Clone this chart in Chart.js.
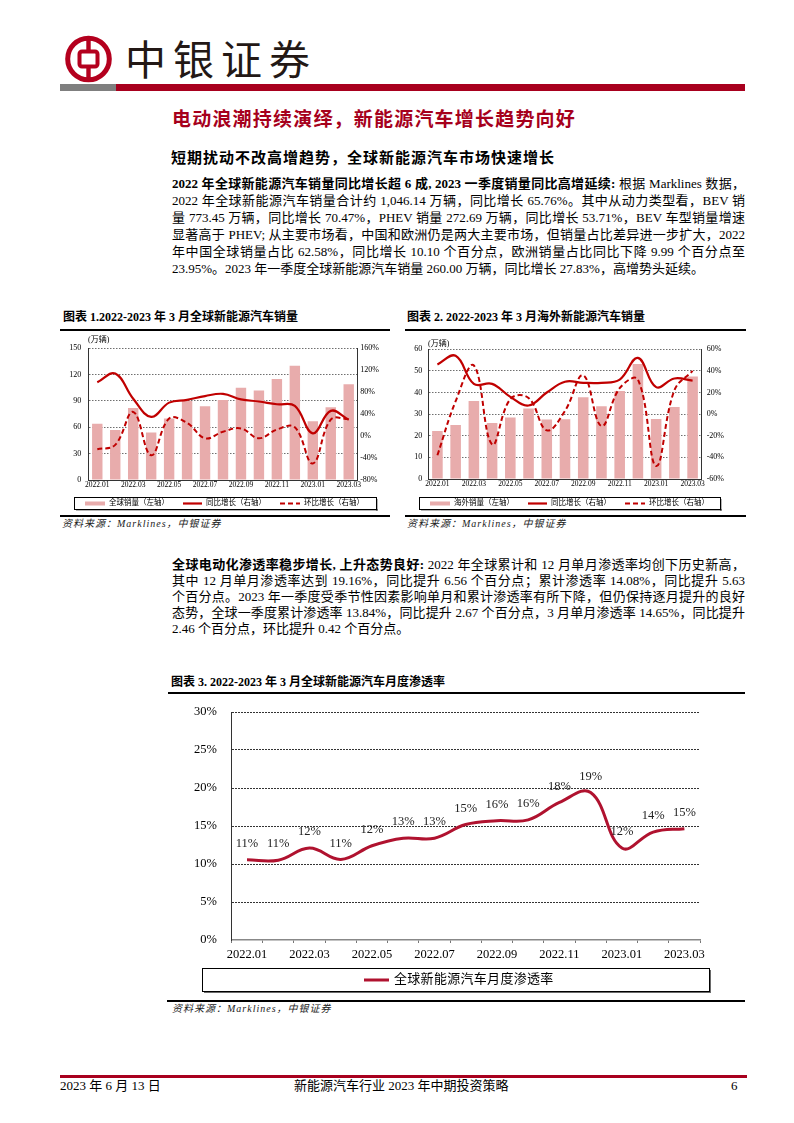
<!DOCTYPE html>
<html><head><meta charset="utf-8">
<script src="https://cdn.jsdelivr.net/npm/chart.js@4.4.0/dist/chart.umd.min.js"></script>
<style>
html,body{margin:0;padding:0;background:#fff;}
body{width:794px;height:1123px;position:relative;overflow:hidden;font-family:"Liberation Serif","Noto Sans CJK SC",serif;color:#000;}
.abs{position:absolute;}
.p{position:absolute;left:172px;width:573px;font-size:13px;}
.p div{height:17px;line-height:17px;}
.p2 div{height:16px;line-height:16px;}
.j{text-align:justify;text-align-last:justify;}
.p b{font-weight:700;}
.ct{position:absolute;font-size:12px;font-weight:700;line-height:14px;white-space:nowrap;}
.rule{position:absolute;height:1.5px;background:#000;}
.src{position:absolute;font-size:10px;font-style:italic;letter-spacing:1px;line-height:12px;white-space:nowrap;color:#222;}
canvas{position:absolute;}
.ft{position:absolute;top:1078px;font-size:13px;line-height:16px;white-space:nowrap;}
</style></head><body>

<svg class="abs" style="left:60px;top:33px" width="60" height="52" viewBox="60 33 60 52">
<circle cx="88.5" cy="59" r="20.8" fill="none" stroke="#b4001e" stroke-width="5"/>
<rect x="86.3" y="38" width="4.4" height="42" fill="#b4001e"/>
<rect x="79.5" y="51.5" width="18" height="15" rx="2.5" fill="#fff" stroke="#b4001e" stroke-width="4"/>
</svg>
<div class="abs" style="left:125px;top:32px;font-family:'Noto Sans CJK SC';font-size:41px;line-height:50px;letter-spacing:7px;color:#231815;">中银证券</div>
<div class="abs" style="left:60px;top:84px;width:56px;height:7px;background:#7f7f7f;"></div>
<div class="abs" style="left:116px;top:84px;width:629px;height:7px;background:#a8001e;"></div>

<div class="abs" style="left:172px;top:107px;font-family:'Noto Sans CJK SC';font-weight:700;font-size:19px;line-height:22px;letter-spacing:1.2px;color:#a6001c;white-space:nowrap;">电动浪潮持续演绎，新能源汽车增长趋势向好</div>
<div class="abs" style="left:171px;top:148px;font-family:'Noto Sans CJK SC';font-weight:700;font-size:15px;line-height:18px;letter-spacing:1px;white-space:nowrap;">短期扰动不改高增趋势，全球新能源汽车市场快速增长</div>

<div class="p" style="top:175px;">
<div class="j"><b>2022 年全球新能源汽车销量同比增长超 6 成, 2023 一季度销量同比高增延续:</b> 根据 Marklines 数据，</div>
<div class="j">2022 年全球新能源汽车销量合计约 1,046.14 万辆，同比增长 65.76%。其中从动力类型看，BEV 销</div>
<div class="j">量 773.45 万辆，同比增长 70.47%，PHEV 销量 272.69 万辆，同比增长 53.71%，BEV 车型销量增速</div>
<div class="j">显著高于 PHEV; 从主要市场看，中国和欧洲仍是两大主要市场，但销量占比差异进一步扩大，2022</div>
<div class="j">年中国全球销量占比 62.58%，同比增长 10.10 个百分点，欧洲销量占比同比下降 9.99 个百分点至</div>
<div>23.95%。2023 年一季度全球新能源汽车销量 260.00 万辆，同比增长 27.83%，高增势头延续。</div>
</div>

<div class="ct" style="left:63px;top:310px;">图表 1.2022-2023 年 3 月全球新能源汽车销量</div>
<div class="rule" style="left:60px;top:329px;width:330px;"></div>
<div class="ct" style="left:407px;top:310px;">图表 2. 2022-2023 年 3 月海外新能源汽车销量</div>
<div class="rule" style="left:405px;top:329px;width:341px;"></div>

<canvas id="c1" width="335" height="182" style="left:60px;top:332px;"></canvas>
<canvas id="c2" width="340" height="182" style="left:405px;top:332px;"></canvas>

<div class="rule" style="left:60px;top:515px;width:330px;"></div>
<div class="rule" style="left:405px;top:515px;width:341px;"></div>
<div class="src" style="left:62px;top:518px;">资料来源：Marklines，中银证券</div>
<div class="src" style="left:407px;top:518px;">资料来源：Marklines，中银证券</div>

<div class="p p2" style="top:557px;">
<div class="j"><b>全球电动化渗透率稳步增长, 上升态势良好:</b> 2022 年全球累计和 12 月单月渗透率均创下历史新高，</div>
<div class="j">其中 12 月单月渗透率达到 19.16%，同比提升 6.56 个百分点；累计渗透率 14.08%，同比提升 5.63</div>
<div class="j">个百分点。2023 年一季度受季节性因素影响单月和累计渗透率有所下降，但仍保持逐月提升的良好</div>
<div class="j">态势，全球一季度累计渗透率 13.84%，同比提升 2.67 个百分点，3 月单月渗透率 14.65%，同比提升</div>
<div>2.46 个百分点，环比提升 0.42 个百分点。</div>
</div>

<div class="ct" style="left:171px;top:675px;">图表 3. 2022-2023 年 3 月全球新能源汽车月度渗透率</div>
<div class="rule" style="left:168px;top:692px;width:577px;"></div>
<canvas id="c3" width="585" height="298" style="left:160px;top:700px;"></canvas>
<div class="rule" style="left:167px;top:1000px;width:578px;"></div>
<div class="src" style="left:172px;top:1003px;">资料来源：Marklines，中银证券</div>

<div class="abs" style="left:60px;top:1075px;width:687px;height:2.5px;background:#a8001e;"></div>
<div class="ft" style="left:60px;">2023 年 6 月 13 日</div>
<div class="ft" style="left:294px;">新能源汽车行业 2023 年中期投资策略</div>
<div class="ft" style="left:731px;">6</div>

<script>
// ---------- data ----------
const months = ['2022.01','2022.02','2022.03','2022.04','2022.05','2022.06','2022.07','2022.08','2022.09','2022.10','2022.11','2022.12','2023.01','2023.02','2023.03'];

const globalSales = [64, 57, 82, 54, 70, 90, 84, 91, 105, 102, 115, 130, 67, 83, 109];
const globalYoY   = [98, 114, 68, 35, 61, 66, 73, 77, 67, 63, 58, 55, 5, 46, 30];
const globalMoM   = [-24, -16, 44, -35, 32, 24, -4, 8, 14, -4, 12, 16, -50, 30, 31];

const overseasSales = [22.2, 25.0, 36.1, 25.9, 28.4, 32.6, 27.5, 27.6, 37.8, 33.6, 40.7, 53.2, 27.8, 33.3, 47.4];
const overseasYoY   = [46, 54, 28, 28, 16, 8, 20, 30, 29, 29, 32, 52, 25, 33, 31];
const overseasMoM   = [-38, 12, 45, -28, 14, 15, -15, 3, 36, -11, 24, 32, -48, 22, 40];

const penetration = [10.55, 10.5, 12.1, 10.6, 12.4, 13.4, 13.4, 15.2, 15.7, 15.8, 18.1, 19.4, 12.1, 14.2, 14.65];

const leftTicks1 = [0, 30, 60, 90, 120, 150];
const rightTicks1 = [-80, -40, 0, 40, 80, 120, 160];
const leftTicks2 = [0, 10, 20, 30, 40, 50, 60];
const rightTicks2 = [-60, -40, -20, 0, 20, 40, 60];
const penTicks = [0, 5, 10, 15, 20, 25, 30];

const legend1 = ['全球销量（左轴）', '同比增长（右轴）', '环比增长（右轴）'];
const legend2 = ['海外销量（左轴）', '同比增长（右轴）', '环比增长（右轴）'];
const legend3 = ['全球新能源汽车月度渗透率'];

// ---------- styles ----------
const SERIF = "'Liberation Serif','Noto Sans CJK SC',serif";
const BAR = '#e8acac';
const RED = '#c00000';
const PEN = '#b0122f';
Chart.defaults.font.family = SERIF;
Chart.defaults.color = '#000';

const boxLegend = {
  id: 'boxLegend',
  afterDraw(chart, args, o) {
    if (!o || !o.box) return;
    const ctx = chart.ctx; ctx.save();
    const {x, y, w, h} = o.box;
    ctx.fillStyle = '#6a6a6a';
    ctx.fillRect(x + 2, y + h, w, o.sh);
    ctx.fillRect(x + w, y + 2, o.sh, h);
    ctx.strokeStyle = '#000'; ctx.lineWidth = 1;
    ctx.strokeRect(x + 0.5, y + 0.5, w, h);
    const cy = y + h / 2 + 0.5;
    chart.data.datasets.forEach((ds, i) => {
      const it = o.items[i];
      const type = chart.getDatasetMeta(i).type;
      if (type === 'bar') {
        ctx.fillStyle = ds.backgroundColor;
        ctx.fillRect(it.x, cy - 2, it.w, 4);
      } else {
        ctx.strokeStyle = ds.borderColor; ctx.lineWidth = ds.borderWidth;
        ctx.setLineDash(ds.borderDash || []);
        ctx.beginPath(); ctx.moveTo(it.x, cy); ctx.lineTo(it.x + it.w, cy); ctx.stroke();
        ctx.setLineDash([]);
      }
      ctx.fillStyle = '#000';
      ctx.font = o.font;
      ctx.textBaseline = 'middle'; ctx.textAlign = 'left';
      if (o.spacing) ctx.letterSpacing = o.spacing;
      ctx.fillText(ds.label, it.tx, cy);
    });
    ctx.restore();
  }
};

const unitLabel = {
  id: 'unitLabel',
  afterDraw(chart, args, o) {
    if (!o || !o.text) return;
    const ctx = chart.ctx; ctx.save();
    ctx.font = '8px ' + SERIF; ctx.fillStyle = '#000';
    ctx.textBaseline = 'middle'; ctx.textAlign = 'left';
    ctx.fillText(o.text, o.x, o.y);
    ctx.restore();
  }
};

const valueLabels = {
  id: 'valueLabels',
  afterDatasetsDraw(chart, args, o) {
    if (!o || !o.on) return;
    const ctx = chart.ctx; ctx.save();
    ctx.font = '12.5px ' + SERIF; ctx.fillStyle = '#222';
    ctx.textAlign = 'center'; ctx.textBaseline = 'middle';
    const meta = chart.getDatasetMeta(0);
    const data = chart.data.datasets[0].data;
    meta.data.forEach((pt, i) => {
      ctx.fillText(Math.round(data[i]) + '%', pt.x, pt.y - 16);
    });
    ctx.restore();
  }
};

function fixedTicks(list) {
  return function(scale) { scale.ticks = list.map(v => ({value: v})); };
}

function salesChart(id, sales, yoy, mom, labels, lt, rt, geo) {
  return new Chart(document.getElementById(id), {
    type: 'bar',
    data: {
      labels: months,
      datasets: [
        {type: 'bar', label: labels[0], data: sales, backgroundColor: BAR, yAxisID: 'y', order: 2, barPercentage: 0.58, categoryPercentage: 1},
        {type: 'line', label: labels[1], data: yoy, borderColor: RED, borderWidth: 2.2, pointRadius: 0, tension: 0.4, yAxisID: 'y1', order: 0},
        {type: 'line', label: labels[2], data: mom, borderColor: RED, borderWidth: 2, borderDash: [5, 3], pointRadius: 0, tension: 0.4, yAxisID: 'y1', order: 1}
      ]
    },
    options: {
      responsive: false, animation: false, events: [], devicePixelRatio: 1,
      layout: {autoPadding: false, padding: {top: geo.top, bottom: geo.bottom, left: 0, right: 0}},
      plugins: {
        legend: {display: false}, tooltip: {enabled: false},
        boxLegend: {box: {x: 14, y: 165, w: geo.lw, h: 12}, sh: 1.5, font: '7.5px ' + SERIF,
          items: [{x: 25, w: 20, tx: 49}, {x: 123, w: 19, tx: 146}, {x: 220, w: 20, tx: 244}]},
        unitLabel: {text: '(万辆)', x: geo.ux, y: geo.uy}
      },
      scales: {
        x: {
          offset: true,
          grid: {display: true, drawOnChartArea: false, drawTicks: false, offset: true},
          border: {display: true, color: '#333', width: 1},
          ticks: {autoSkip: false, maxRotation: 0, padding: 1, font: {size: 7.5}, color: '#000',
            callback: (v, i) => i % 2 === 0 ? months[i] : ''},
          afterFit: s => { s.height = 10; }
        },
        y: {
          position: 'left', min: lt[0], max: lt[lt.length - 1],
          afterBuildTicks: fixedTicks(lt),
          ticks: {padding: geo.lp, font: {size: 8}, color: '#000'},
          grid: {color: c => c.index === 0 ? 'rgba(0,0,0,0)' : '#6f6f6f', lineWidth: 1, drawTicks: false},
          border: {display: true, color: '#333', width: 1, dash: [1.5, 1.5]},
          afterFit: s => { s.width = geo.yw; }
        },
        y1: {
          position: 'right', min: rt[0], max: rt[rt.length - 1],
          afterBuildTicks: fixedTicks(rt),
          ticks: {padding: geo.rp, font: {size: 8}, color: '#000', callback: v => v + '%'},
          grid: {drawOnChartArea: false, drawTicks: false},
          border: {display: true, color: '#333', width: 1},
          afterFit: s => { s.width = geo.y1w; }
        }
      }
    },
    plugins: [boxLegend, unitLabel]
  });
}

salesChart('c1', globalSales, globalYoY, globalMoM, legend1, leftTicks1, rightTicks1,
  {top: 16.3, bottom: 24, yw: 28.3, y1w: 37.3, lp: 7, rp: 2.5, lw: 302, ux: 28, uy: 8});
salesChart('c2', overseasSales, overseasYoY, overseasMoM, legend2, leftTicks2, rightTicks2,
  {top: 17.3, bottom: 25, yw: 23.3, y1w: 43.3, lp: 6, rp: 5, lw: 301, ux: 23, uy: 12});

new Chart(document.getElementById('c3'), {
  type: 'line',
  data: {
    labels: months,
    datasets: [{label: legend3[0], data: penetration, borderColor: PEN, borderWidth: 3, pointRadius: 0, tension: 0.4}]
  },
  options: {
    responsive: false, animation: false, events: [], devicePixelRatio: 1,
    layout: {autoPadding: false, padding: {top: 12, bottom: 38, left: 0, right: 45}},
    plugins: {
      legend: {display: false}, tooltip: {enabled: false},
      boxLegend: {box: {x: 42, y: 268, w: 507, h: 23}, sh: 2, font: '13px ' + SERIF, spacing: '0.3px',
        items: [{x: 204, w: 25, tx: 234}]},
      valueLabels: {on: true}
    },
    scales: {
      x: {
        offset: true,
        grid: {display: true, drawOnChartArea: false, drawTicks: true, tickLength: 3, offset: true, color: '#777'},
        border: {display: true, color: '#888', width: 1.5},
        ticks: {autoSkip: false, maxRotation: 0, padding: 4.5, font: {size: 12.5}, color: '#000',
          callback: (v, i) => i % 2 === 0 ? months[i] : ''},
        afterFit: s => { s.height = 20; }
      },
      y: {
        min: penTicks[0], max: penTicks[penTicks.length - 1],
        afterBuildTicks: fixedTicks(penTicks),
        ticks: {padding: 1, font: {size: 12.5}, color: '#000', callback: v => v + '%'},
        grid: {color: c => c.index === 0 ? 'rgba(0,0,0,0)' : '#333', lineWidth: 1, drawTicks: true, tickLength: 13.4,
          tickColor: 'rgba(0,0,0,0)'},
        border: {display: true, color: '#333', width: 1, dash: [2, 1]},
        afterFit: s => { s.width = 71.4; }
      }
    }
  },
  plugins: [boxLegend, valueLabels]
});
</script>
</body></html>
